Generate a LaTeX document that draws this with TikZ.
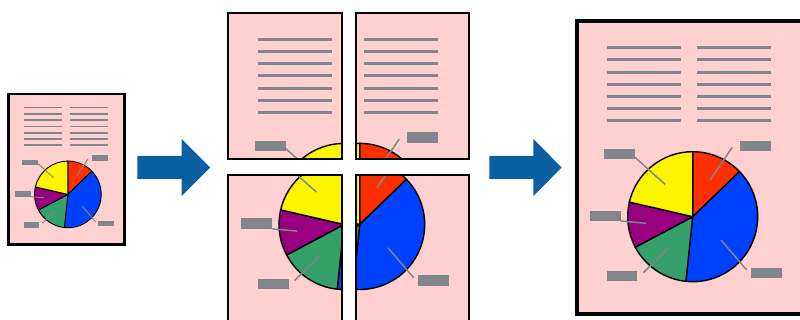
\documentclass[tikz,border=0pt]{standalone}
\usetikzlibrary{arrows.meta, positioning}
\usepackage{xcolor}

\definecolor{pagePink}{RGB}{255,208,208}
\definecolor{tagGray}{RGB}{128,134,139}
\definecolor{flowBlue}{RGB}{10,95,160}
\definecolor{pieRed}{RGB}{255,48,0}
\definecolor{pieBlue}{RGB}{0,64,255}
\definecolor{pieGreen}{RGB}{54,160,106}
\definecolor{piePurple}{RGB}{153,0,127}
\definecolor{pieYellow}{RGB}{252,245,0}

% one printed page, origin at its top left corner
\newcommand{\posterpage}{%
  \fill[pagePink] (0,0) rectangle (226,293);
  \foreach \row in {0,...,6} {
    \draw[txtline] (30,26.7+12.2*\row) -- (104,26.7+12.2*\row);
    \draw[txtline] (120,26.7+12.2*\row) -- (194,26.7+12.2*\row);
  }
  \foreach \a/\b/\col in {-90/-44/pieRed, -44/96/pieBlue, 96/152/pieGreen,
                          152/193/piePurple, 193/270/pieYellow} {
    \filldraw[slice, fill=\col] (115.7,195.7) -- ++(\a:65)
      arc[start angle=\a, end angle=\b, radius=65] -- cycle;
  }
  \foreach \lx/\ly/\ax/\ay/\bx/\by in {27/128/57.3/135.7/88/163.3,
      163/119.7/155.3/126.3/133/159, 13/189.7/43.7/200/69/202.3,
      29.7/250/66.3/251.7/90.7/227.7, 174/246.7/169.7/249/144/219} {
    \draw[leader] (\ax,\ay) -- (\bx,\by);
    \fill[tag] (\lx,\ly) rectangle ++(30.7,10.3);
  }
}

\begin{document}
\begin{tikzpicture}[
  x=1pt, y=-1pt,
  txtline/.style={draw=tagGray, line width=3pt},
  slice/.style={draw=black, line width=1.4pt, line join=round},
  leader/.style={draw=tagGray, line width=1.5pt},
  tag/.style={fill=tagGray},
  frame/.style={draw=black, line width=3.5pt},
  tileframe/.style={draw=black, line width=2pt},
  flow/.style={fill=flowBlue}
]
\useasboundingbox (0,0) rectangle (800,320);

% small original
\begin{scope}[shift={(8.5,94)}, scale=0.513,
  txtline/.style={draw=tagGray, line width=1.6pt},
  slice/.style={draw=black, line width=0.9pt, line join=round},
  leader/.style={draw=tagGray, line width=0.9pt}]
  \posterpage
  \draw[frame, line width=2.6pt] (0,0) rectangle (226,293);
\end{scope}

\fill[flow] (137.3,156) -- (181.7,156) -- (181.7,139) -- (210,167.5)
  -- (181.7,196) -- (181.7,179) -- (137.3,179) -- cycle;

% four tiles
\foreach \tx/\ty/\sx/\sy/\cx/\cy in {228.3/12.7/228.3/12.7/0/0,
    356/12.7/244/12.7/112.4/0, 228.3/175/228.3/28.8/0/146.4,
    356/175/244/28.8/112.4/146.4} {
  \begin{scope}
    \clip (\tx,\ty) rectangle ++(113.3,146.6);
    \begin{scope}[shift={(\sx,\sy)}]
      \posterpage
    \end{scope}
  \end{scope}
  \draw[tileframe] (\tx,\ty) rectangle ++(113.3,146.6);
}

\fill[flow] (489.3,156) -- (533.3,156) -- (533.3,139) -- (561.7,167.5)
  -- (533.3,196) -- (533.3,179) -- (489.3,179) -- cycle;

% enlarged result
\begin{scope}[shift={(577,21)}]
  \posterpage
  \draw[frame] (0,0) rectangle (226,293);
\end{scope}
\end{tikzpicture}
\end{document}
